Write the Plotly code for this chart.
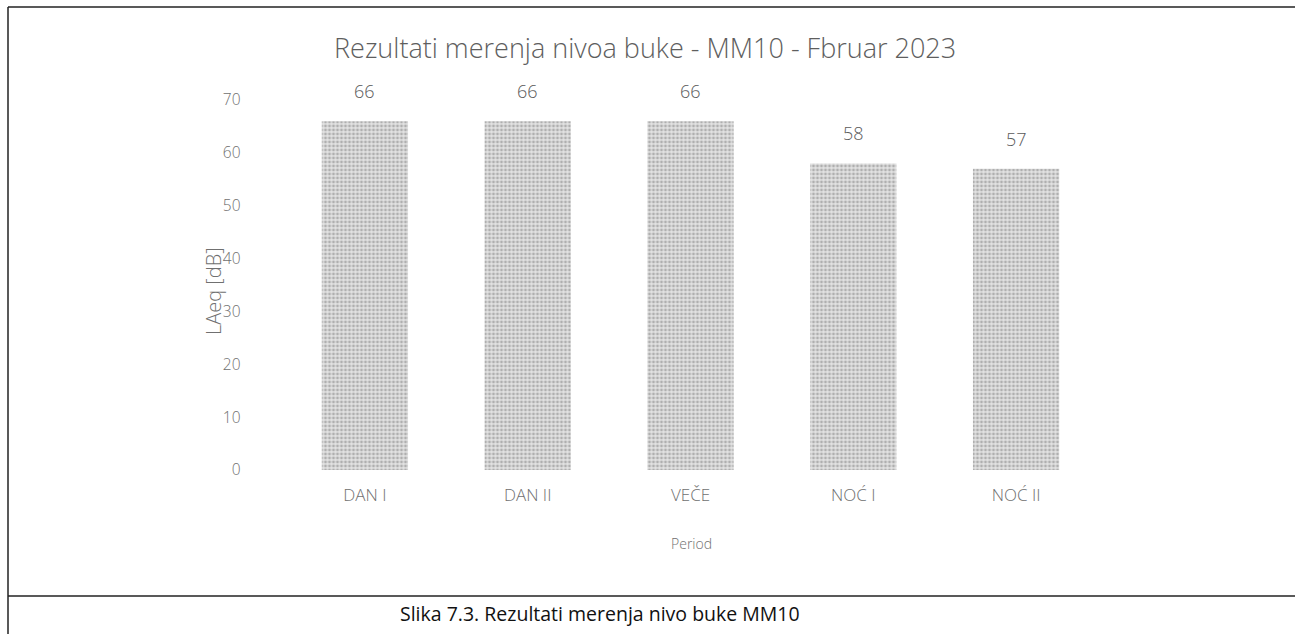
import plotly.graph_objects as go

# Noise measurement results, MM10, February 2023
periods = ["DAN I", "DAN II", "VEČE", "NOĆ I", "NOĆ II"]
laeq = [66, 66, 66, 58, 57]
y_ticks = [0, 10, 20, 30, 40, 50, 60, 70]

W, H = 1295, 634
font_fam = "'Open Sans', Lato, sans-serif"
txt_grey = "#707070"

fig = go.Figure()
fig.add_trace(go.Bar(
    x=periods,
    y=laeq,
    marker=dict(
        color="#dcdcdc",
        line=dict(width=0),
        pattern=dict(shape=".", fgcolor="#7c7c7c", bgcolor="#e2e2e2",
                     size=4, solidity=0.42),
    ),
    width=0.53,
    hoverinfo="x+y",
))

# value labels above each bar
for p, v in zip(periods, laeq):
    fig.add_annotation(x=p, y=v, text=str(v), showarrow=False,
                       yanchor="bottom", yshift=16,
                       font=dict(family=font_fam, size=18, color="#5a5a5a",
                                 weight=300))


def px_x(x):
    return x / W


def px_y(y):
    return 1 - y / H


fig.update_layout(
    width=W, height=H,
    margin=dict(l=0, r=0, t=0, b=0, pad=0, autoexpand=False),
    paper_bgcolor="white",
    plot_bgcolor="white",
    showlegend=False,
    xaxis=dict(
        domain=[px_x(283.5), px_x(1097.5)],
        automargin=False,
        showgrid=False, zeroline=False, showline=False,
        ticks="", ticklabelstandoff=13,
        tickfont=dict(family=font_fam, size=17, color=txt_grey, weight=300),
    ),
    yaxis=dict(
        domain=[px_y(470), px_y(100)],
        range=[0, 70],
        tickvals=y_ticks,
        automargin=False,
        showgrid=False, zeroline=False, showline=False,
        ticks="", ticklabelstandoff=42,
        tickfont=dict(family=font_fam, size=15.5, color=txt_grey, weight=300),
    ),
    annotations=list(fig.layout.annotations) + [
        dict(text="Rezultati merenja nivoa buke - MM10 - Fbruar 2023",
             xref="paper", yref="paper", x=px_x(645), y=px_y(48),
             showarrow=False, xanchor="center", yanchor="middle",
             font=dict(family=font_fam, size=27, color="#5e5e5e", weight=300)),
        dict(text="Period", xref="paper", yref="paper",
             x=px_x(691), y=px_y(543), showarrow=False,
             xanchor="center", yanchor="middle",
             font=dict(family=font_fam, size=14, color=txt_grey, weight=300)),
        dict(text="LAeq [dB]", xref="paper", yref="paper",
             x=px_x(213), y=px_y(291), showarrow=False, textangle=-90,
             xanchor="center", yanchor="middle",
             font=dict(family=font_fam, size=20, color=txt_grey, weight=300)),
        dict(text="Slika 7.3. Rezultati merenja nivo buke MM10",
             xref="paper", yref="paper", x=px_x(600), y=px_y(613),
             showarrow=False, xanchor="center", yanchor="middle",
             font=dict(family="'Open Sans', sans-serif", size=19.5,
                       color="#111111")),
    ],
    shapes=[
        dict(type="line", xref="paper", yref="paper",
             x0=px_x(8), x1=1, y0=px_y(7), y1=px_y(7),
             line=dict(color="#222222", width=1.5)),
        dict(type="line", xref="paper", yref="paper",
             x0=px_x(8), x1=px_x(8), y0=px_y(7), y1=0,
             line=dict(color="#222222", width=1.5)),
        dict(type="line", xref="paper", yref="paper",
             x0=px_x(8), x1=1, y0=px_y(596), y1=px_y(596),
             line=dict(color="#222222", width=1.5)),
    ],
)

fig.write_html("out.html")
